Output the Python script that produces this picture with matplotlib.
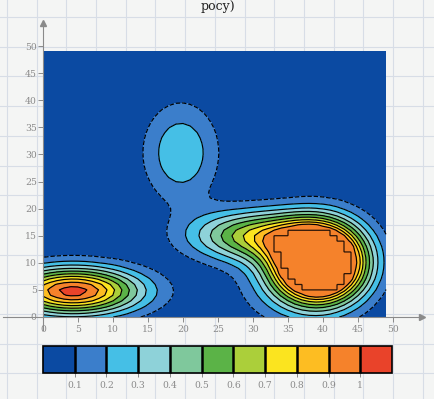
import numpy as np
import matplotlib
matplotlib.use("Agg")
import matplotlib.pyplot as plt
from matplotlib.lines import Line2D

# ---------------- data ----------------
x_vals = np.arange(0, 50)          # grid columns 0..49
y_vals = np.arange(0, 50)          # grid rows 0..49

# surface described by bumps: (centre x, centre y, height, spread x, spread y)
bump_main   = (39.4, 10.0, 2.00, 4.3, 4.8)
bump_tongue = (30.5, 15.0, 0.67, 6.3, 3.2)
bump_foot   = (34.0, 5.0, 0.10, 5.5, 5.0)
bump_upper  = (19.7, 30.3, 0.29, 3.7, 6.3)
bump_left   = (4.3, 4.8, 1.05, 6.6, 3.0)
plateau_cap = 0.9999               # the big hump is flattened at 1

levels = [0.0, 0.1, 0.2, 0.3, 0.4, 0.5, 0.6, 0.7, 0.8, 0.9, 1.0, 1.1]
level_colors = ['#0b4aa2', '#3b7ecb', '#45bfe6', '#8ed2d9', '#7fc89c',
                '#5bb347', '#abcf3a', '#fbe41f', '#fdbd22', '#f5822b', '#e9432a']
line_levels = [0.1, 0.2, 0.3, 0.4, 0.5, 0.6, 0.7, 0.8, 0.9, 1.0]
cbar_ticks = [0.1, 0.2, 0.3, 0.4, 0.5, 0.6, 0.7, 0.8, 0.9, 1.0]
cbar_labels = ['0.1', '0.2', '0.3', '0.4', '0.5', '0.6', '0.7', '0.8', '0.9', '1']
axis_ticks = [0, 5, 10, 15, 20, 25, 30, 35, 40, 45, 50]

# ---------------- build surface ----------------
X, Y = np.meshgrid(x_vals, y_vals)

def bump(p):
    cx, cy, a, sx, sy = p
    return a * np.exp(-((X - cx) ** 2 / (2 * sx ** 2) + (Y - cy) ** 2 / (2 * sy ** 2)))

Zab = bump(bump_main) + bump(bump_tongue) + bump(bump_foot) + bump(bump_upper)
Zc = bump(bump_left)
Z = np.maximum(np.minimum(Zab, plateau_cap), Zc)

# ---------------- figure ----------------
plt.rcParams['font.family'] = ['DejaVu Serif']
W, H = 435, 399
fig = plt.figure(figsize=(W / 100, H / 100), dpi=100, facecolor='#f4f5f4')

# graph-paper background
for k in range(16):
    xp = 7 + 29.7 * k
    fig.add_artist(Line2D([xp / W, xp / W], [0, 1], transform=fig.transFigure,
                          color='#d7dde6', lw=0.8, zorder=-5))
for k in range(15):
    yp = 17 + 29.7 * k
    fig.add_artist(Line2D([0, 1], [1 - yp / H, 1 - yp / H], transform=fig.transFigure,
                          color='#d7dde6', lw=0.8, zorder=-5))

gray = '#8a8a8a'
ax = fig.add_axes([3 / W, (H - 330) / H, 419 / W, 307 / H])
ax.set_facecolor('none')

cf = ax.contourf(X, Y, Z, levels=levels, colors=level_colors, zorder=1)
ax.contour(X, Y, Z, levels=line_levels, colors='k', linewidths=0.85,
           linestyles=['dashed'] + ['solid'] * 9, zorder=2)

# stair-step outline of the flattened top
cell = ((Zab[:-1, :-1] >= plateau_cap) & (Zab[1:, :-1] >= plateau_cap) &
        (Zab[:-1, 1:] >= plateau_cap) & (Zab[1:, 1:] >= plateau_cap))
k = 8
fine = np.kron(cell.astype(float), np.ones((k, k)))
xf = x_vals[0] + (np.arange(fine.shape[1]) + 0.5) / k
yf = y_vals[0] + (np.arange(fine.shape[0]) + 0.5) / k
ax.contour(xf, yf, fine, levels=[0.5], colors='#2a1408', linewidths=0.9, zorder=3)

xmin, xmax = -(43 - 3) / 7.0, (422 - 43) / 7.0
ymin, ymax = -(330 - 317) / 5.42, (317 - 23) / 5.42
ax.set_xlim(xmin, xmax)
ax.set_ylim(ymin, ymax)

for s in ['top', 'right']:
    ax.spines[s].set_visible(False)
ax.spines['left'].set_position(('data', 0))
ax.spines['bottom'].set_position(('data', 0))
for s in ['left', 'bottom']:
    ax.spines[s].set_color(gray)
    ax.spines[s].set_linewidth(0.8)
ax.plot([xmax], [0], marker='>', ms=5, color=gray, clip_on=False, zorder=4)
ax.plot([0], [ymax], marker='^', ms=5, color=gray, clip_on=False, zorder=4)

ax.set_xticks(axis_ticks)
ax.set_yticks(axis_ticks)
ax.tick_params(direction='out', length=3.5, width=0.7, color=gray,
               labelcolor=gray, labelsize=6.7)
ax.tick_params(axis='x', pad=2.5)
ax.tick_params(axis='y', pad=1)

# colour bar
cax = fig.add_axes([43 / W, (H - 373) / H, 349 / W, 27 / H])
cb = fig.colorbar(cf, cax=cax, orientation='horizontal', ticks=cbar_ticks, drawedges=True)
cb.set_ticklabels(cbar_labels)
cb.outline.set_edgecolor('k')
cb.outline.set_linewidth(1.2)
cb.dividers.set_color('k')
cb.dividers.set_linewidth(1.8)
cax.tick_params(length=3, width=0.7, color=gray, labelcolor=gray, labelsize=6.7, pad=2.5)

# caption fragment at the very top
fig.text(218 / W, 1 - 10 / H, 'pocy)', ha='center', va='baseline', fontsize=9, color='#222222')

fig.savefig('out.png', dpi=100, facecolor=fig.get_facecolor())
